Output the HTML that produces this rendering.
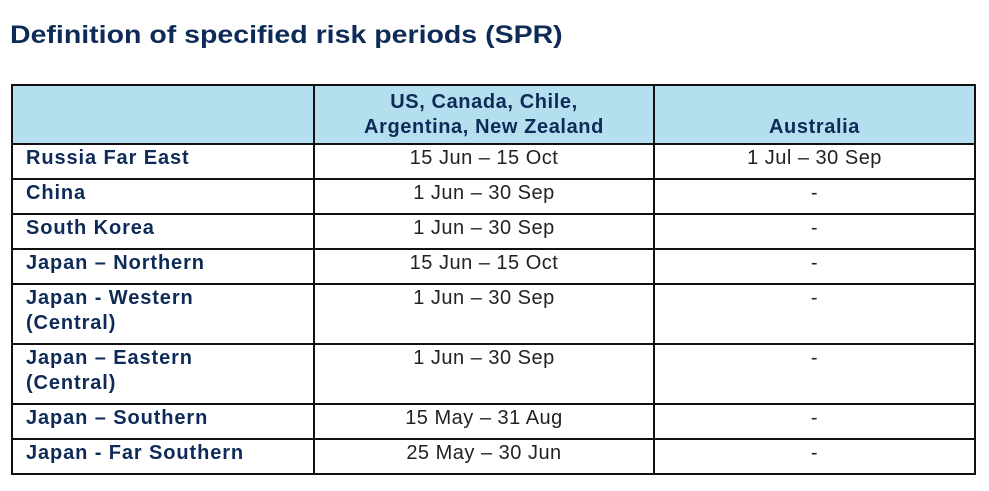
<!DOCTYPE html>
<html><head><meta charset="utf-8"><style>
body{margin:0;width:989px;height:491px;background:#fff;font-family:"Liberation Sans",sans-serif;color:#0e2b58;position:relative;overflow:hidden}
.t{position:absolute;left:10px;top:21px;font-size:25px;font-weight:bold;transform:scaleX(1.14);transform-origin:left top;white-space:nowrap}
table{position:absolute;left:11px;top:84px;border-collapse:collapse;font-size:20px}
td,th{border:2px solid #111;padding:0;vertical-align:top}
th{background:#b3dfee;height:54px;vertical-align:bottom;font-weight:bold;line-height:25px;padding-bottom:3px;letter-spacing:0.6px}
td.l{font-weight:bold;padding:1px 0 0 13px;line-height:25px;letter-spacing:0.9px}
td.v{text-align:center;padding-top:1px;line-height:25px;color:#222;letter-spacing:0.5px}
</style></head><body>
<div class="t">Definition of specified risk periods (SPR)</div>
<table>
<colgroup><col style="width:302px"><col style="width:340px"><col style="width:321px"></colgroup>
<tr><th></th><th>US, Canada, Chile,<br>Argentina, New Zealand</th><th>Australia</th></tr>
<tr style="height:35px"><td class="l">Russia Far East</td><td class="v">15 Jun – 15 Oct</td><td class="v">1 Jul – 30 Sep</td></tr>
<tr style="height:35px"><td class="l">China</td><td class="v">1 Jun – 30 Sep</td><td class="v">-</td></tr>
<tr style="height:35px"><td class="l">South Korea</td><td class="v">1 Jun – 30 Sep</td><td class="v">-</td></tr>
<tr style="height:35px"><td class="l">Japan – Northern</td><td class="v">15 Jun – 15 Oct</td><td class="v">-</td></tr>
<tr style="height:60px"><td class="l">Japan - Western<br>(Central)</td><td class="v">1 Jun – 30 Sep</td><td class="v">-</td></tr>
<tr style="height:60px"><td class="l">Japan – Eastern<br>(Central)</td><td class="v">1 Jun – 30 Sep</td><td class="v">-</td></tr>
<tr style="height:35px"><td class="l">Japan – Southern</td><td class="v">15 May – 31 Aug</td><td class="v">-</td></tr>
<tr style="height:35px"><td class="l">Japan - Far Southern</td><td class="v">25 May – 30 Jun</td><td class="v">-</td></tr>
</table>
</body></html>
